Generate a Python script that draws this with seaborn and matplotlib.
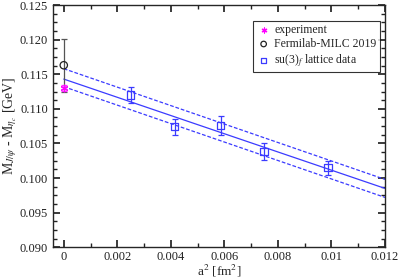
import matplotlib.pyplot as plt
import matplotlib.ticker as mticker
import seaborn as sns
import pandas as pd

# experiment
exp_x = [0.0]
exp_y = [0.1130]
exp_err = [0.0004]

# Fermilab-MILC 2019
fnal_x = [0.0]
fnal_y = [0.1163]
fnal_err = [0.0038]

# su(3)_f lattice data
lat_x = [0.0025, 0.00415, 0.00587, 0.00748, 0.00987]
lat_y = [0.1120, 0.1074, 0.1076, 0.1038, 0.1015]
lat_err = [0.0012, 0.0012, 0.0014, 0.0012, 0.0010]

# linear fit with error band (endpoints)
fit_x = [0.0, 0.012]
fit_mid = [0.1143, 0.0985]
fit_hi = [0.1158, 0.0998]
fit_lo = [0.1132, 0.0972]

sns.set_theme(style="ticks")
plt.rcParams["font.family"] = ["Liberation Serif", "DejaVu Serif"]
plt.rcParams["mathtext.fontset"] = "stix"

fig = plt.figure(figsize=(3.99, 2.80), dpi=100)
ax = fig.add_axes([0.133, 0.117, 0.832, 0.865])

blue = "#3b3bff"
fit_df = pd.DataFrame({"x": fit_x * 3,
                       "y": fit_mid + fit_hi + fit_lo,
                       "kind": ["mid"] * 2 + ["hi"] * 2 + ["lo"] * 2})
sns.lineplot(data=fit_df[fit_df.kind == "mid"], x="x", y="y", ax=ax,
             color=blue, lw=0.9)
for k in ["hi", "lo"]:
    sns.lineplot(data=fit_df[fit_df.kind == k], x="x", y="y", ax=ax,
                 color=blue, lw=0.9, linestyle=(0, (3, 1.5)))

ax.errorbar(lat_x, lat_y, yerr=lat_err, fmt="none", ecolor=blue,
            elinewidth=0.9, capsize=2.5, capthick=0.9)
ax.errorbar(fnal_x, fnal_y, yerr=fnal_err, fmt="none", ecolor="#555555",
            elinewidth=0.9, capsize=2.5, capthick=0.9)
ax.errorbar(exp_x, exp_y, yerr=exp_err, fmt="none", ecolor="#ff33ff",
            elinewidth=0.9, capsize=2.5, capthick=0.9)

sns.scatterplot(x=exp_x, y=exp_y, ax=ax, marker=(6, 2, 0), s=22,
                color="#ff00ff", linewidth=0.9, label="experiment", zorder=5)
sns.scatterplot(x=fnal_x, y=fnal_y, ax=ax, marker="o", s=28,
                facecolor="none", edgecolor="#222222", linewidth=0.9,
                label="Fermilab-MILC 2019", zorder=5)
sns.scatterplot(x=lat_x, y=lat_y, ax=ax, marker="s", s=26,
                facecolor="none", edgecolor=blue, linewidth=0.9,
                label=r"su(3)$_f$ lattice data", zorder=5)

ax.set_xlim(-0.0004, 0.012)
ax.set_ylim(0.090, 0.125)
ax.xaxis.set_major_locator(mticker.MultipleLocator(0.002))
ax.xaxis.set_minor_locator(mticker.MultipleLocator(0.001))
ax.yaxis.set_major_locator(mticker.MultipleLocator(0.005))
ax.yaxis.set_minor_locator(mticker.MultipleLocator(0.00125))
ax.xaxis.set_major_formatter(mticker.FuncFormatter(
    lambda v, p: "0" if abs(v) < 1e-9 else f"{v:g}"))
ax.yaxis.set_major_formatter(mticker.FormatStrFormatter("%.3f"))
ax.tick_params(which="both", direction="in", top=True, right=True,
               labelsize=9, colors="#222222")
ax.tick_params(axis="x", pad=2.5)
ax.tick_params(which="major", length=5)
ax.tick_params(which="minor", length=3)
for s in ax.spines.values():
    s.set_linewidth(1.0)

ax.set_xlabel(r"a$^2$ [fm$^2$]", fontsize=9.5, labelpad=0)
ax.set_ylabel(r"M$_{J/\psi}$ - M$_{\eta_c}$ [GeV]", fontsize=10, labelpad=1)

leg = ax.legend(loc="upper right", bbox_to_anchor=(0.985, 0.935),
                fontsize=8.5, frameon=True, fancybox=False, edgecolor="black",
                handletextpad=0.3, borderpad=0.3, labelspacing=0.15,
                handlelength=1.2, borderaxespad=0, markerscale=0.75)
leg.get_frame().set_linewidth(0.8)

fig.savefig("out.png", dpi=100)
